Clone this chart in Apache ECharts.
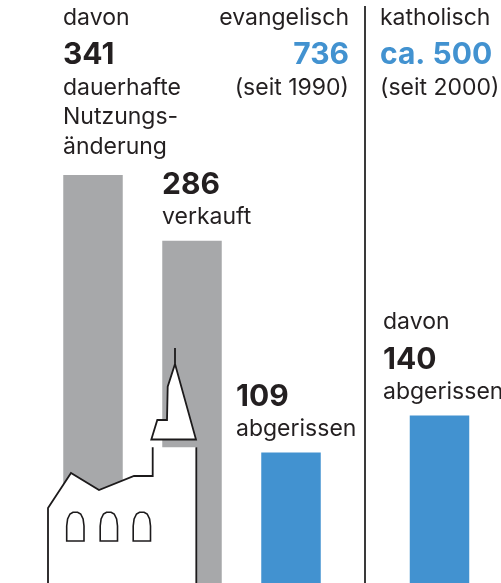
<!DOCTYPE html>
<html><head><meta charset="utf-8">
<style>html,body{margin:0;padding:0;background:#fff}#c{width:501px;height:583px}</style>
<script src="https://cdn.jsdelivr.net/npm/echarts@6/dist/echarts.min.js"></script></head>
<body><div id="c"></div>
<script>
const categories = ['Nutzungsänderung','', 'verkauft','', 'abgerissen ev.','','', 'abgerissen kath.'];
const values = [341,null,286,null,109,null,null,140];
const barColors = ['#a7a8aa',null,'#a7a8aa',null,'#4292d0',null,null,'#4292d0'];
const evangelisch = 736;
const katholisch = 'ca. 500';
const FONT = 'Inter';
const INK = '#231f20', BLUE = '#4292d0';
const bodySize = 23, numSize = 30;

function t(x,y,text,o={}){
  return {type:'text',x,y,z:30,style:{text,fill:o.fill||INK,
    font:(o.bold?'700 ':'400 ')+(o.bold?numSize:bodySize)+'px '+FONT,
    textAlign:o.align||'left',textVerticalAlign:'middle',verticalAlign:'middle'}};
}
const texts = [
  t(63,18,'davon'), t(63,55,String(values[0]),{bold:1}),
  t(63,88,'dauerhafte'), t(63,117,'Nutzungs-'), t(63,147,'änderung'),
  t(349,18,'evangelisch',{align:'right'}), t(349,55,String(evangelisch),{bold:1,fill:BLUE,align:'right'}),
  t(349,88,'(seit 1990)',{align:'right'}),
  t(380,18,'katholisch'), t(380,55,katholisch,{bold:1,fill:BLUE}), t(380,88,'(seit 2000)'),
  t(162,185,String(values[2]),{bold:1}), t(162,217,'verkauft'),
  t(236,397,String(values[4]),{bold:1}), t(236,429,'abgerissen'),
  t(383,322,'davon'), t(383,360,String(values[7]),{bold:1}), t(383,392,'abgerissen')
];
const line = {stroke:'#1c1a1b',lineWidth:1.8,lineJoin:'miter',fill:null};
function win(dx){
  return {type:'polygon',z:22,shape:{points:[[66.7,541],[66.7,526],[67.6,519],[70,514],[73,512.2],[77.6,512.2],[80.7,514],[83.1,519],[84,526],[84,541]].map(p=>[p[0]+dx,p[1]])},style:{stroke:'#1c1a1b',lineWidth:1.6,fill:'#fff'}};
}
const church = [
  {type:'polygon',z:20,shape:{points:[[48,585],[48,508],[71,473],[99,490],[134,476],[152.7,476],[152.7,447.3],[196.3,447.3],[196.3,585]]},style:{fill:'#fff'}},
  {type:'polygon',z:20,shape:{points:[[175,364],[196,439.5],[151.3,439.5],[157.3,420],[167,420],[167.7,386.7]]},style:{fill:'#fff'}},
  {type:'polyline',z:21,shape:{points:[[48,585],[48,508],[71,473],[99,490],[134,476],[152.7,476],[152.7,447.3]]},style:line},
  {type:'polyline',z:21,shape:{points:[[196.3,447.3],[196.3,585]]},style:line},
  {type:'polyline',z:21,shape:{points:[[175,348],[175,364],[196,439.5],[151.3,439.5],[157.3,420],[167,420],[167.7,386.7],[175,364]]},style:line},
  win(0),win(33.5),win(66.5),
  {type:'line',z:21,shape:{x1:365,y1:6,x2:365,y2:583},style:{stroke:'#3a3a3a',lineWidth:2}}
];
const chart = echarts.init(document.getElementById('c'),null,{renderer:'canvas'});
chart.setOption({
  animation:false,
  grid:{left:68.25,top:175,width:396,height:410,containLabel:false},
  xAxis:{type:'category',data:categories,show:false},
  yAxis:{type:'value',min:0,max:341,show:false},
  series:[{type:'bar',barWidth:59.5,silent:true,clip:false,
    data:values.map((v,i)=>({value:v,itemStyle:{color:barColors[i]||'transparent'}}))}],
  graphic:{elements:church.concat(texts)}
});
</script></body></html>
